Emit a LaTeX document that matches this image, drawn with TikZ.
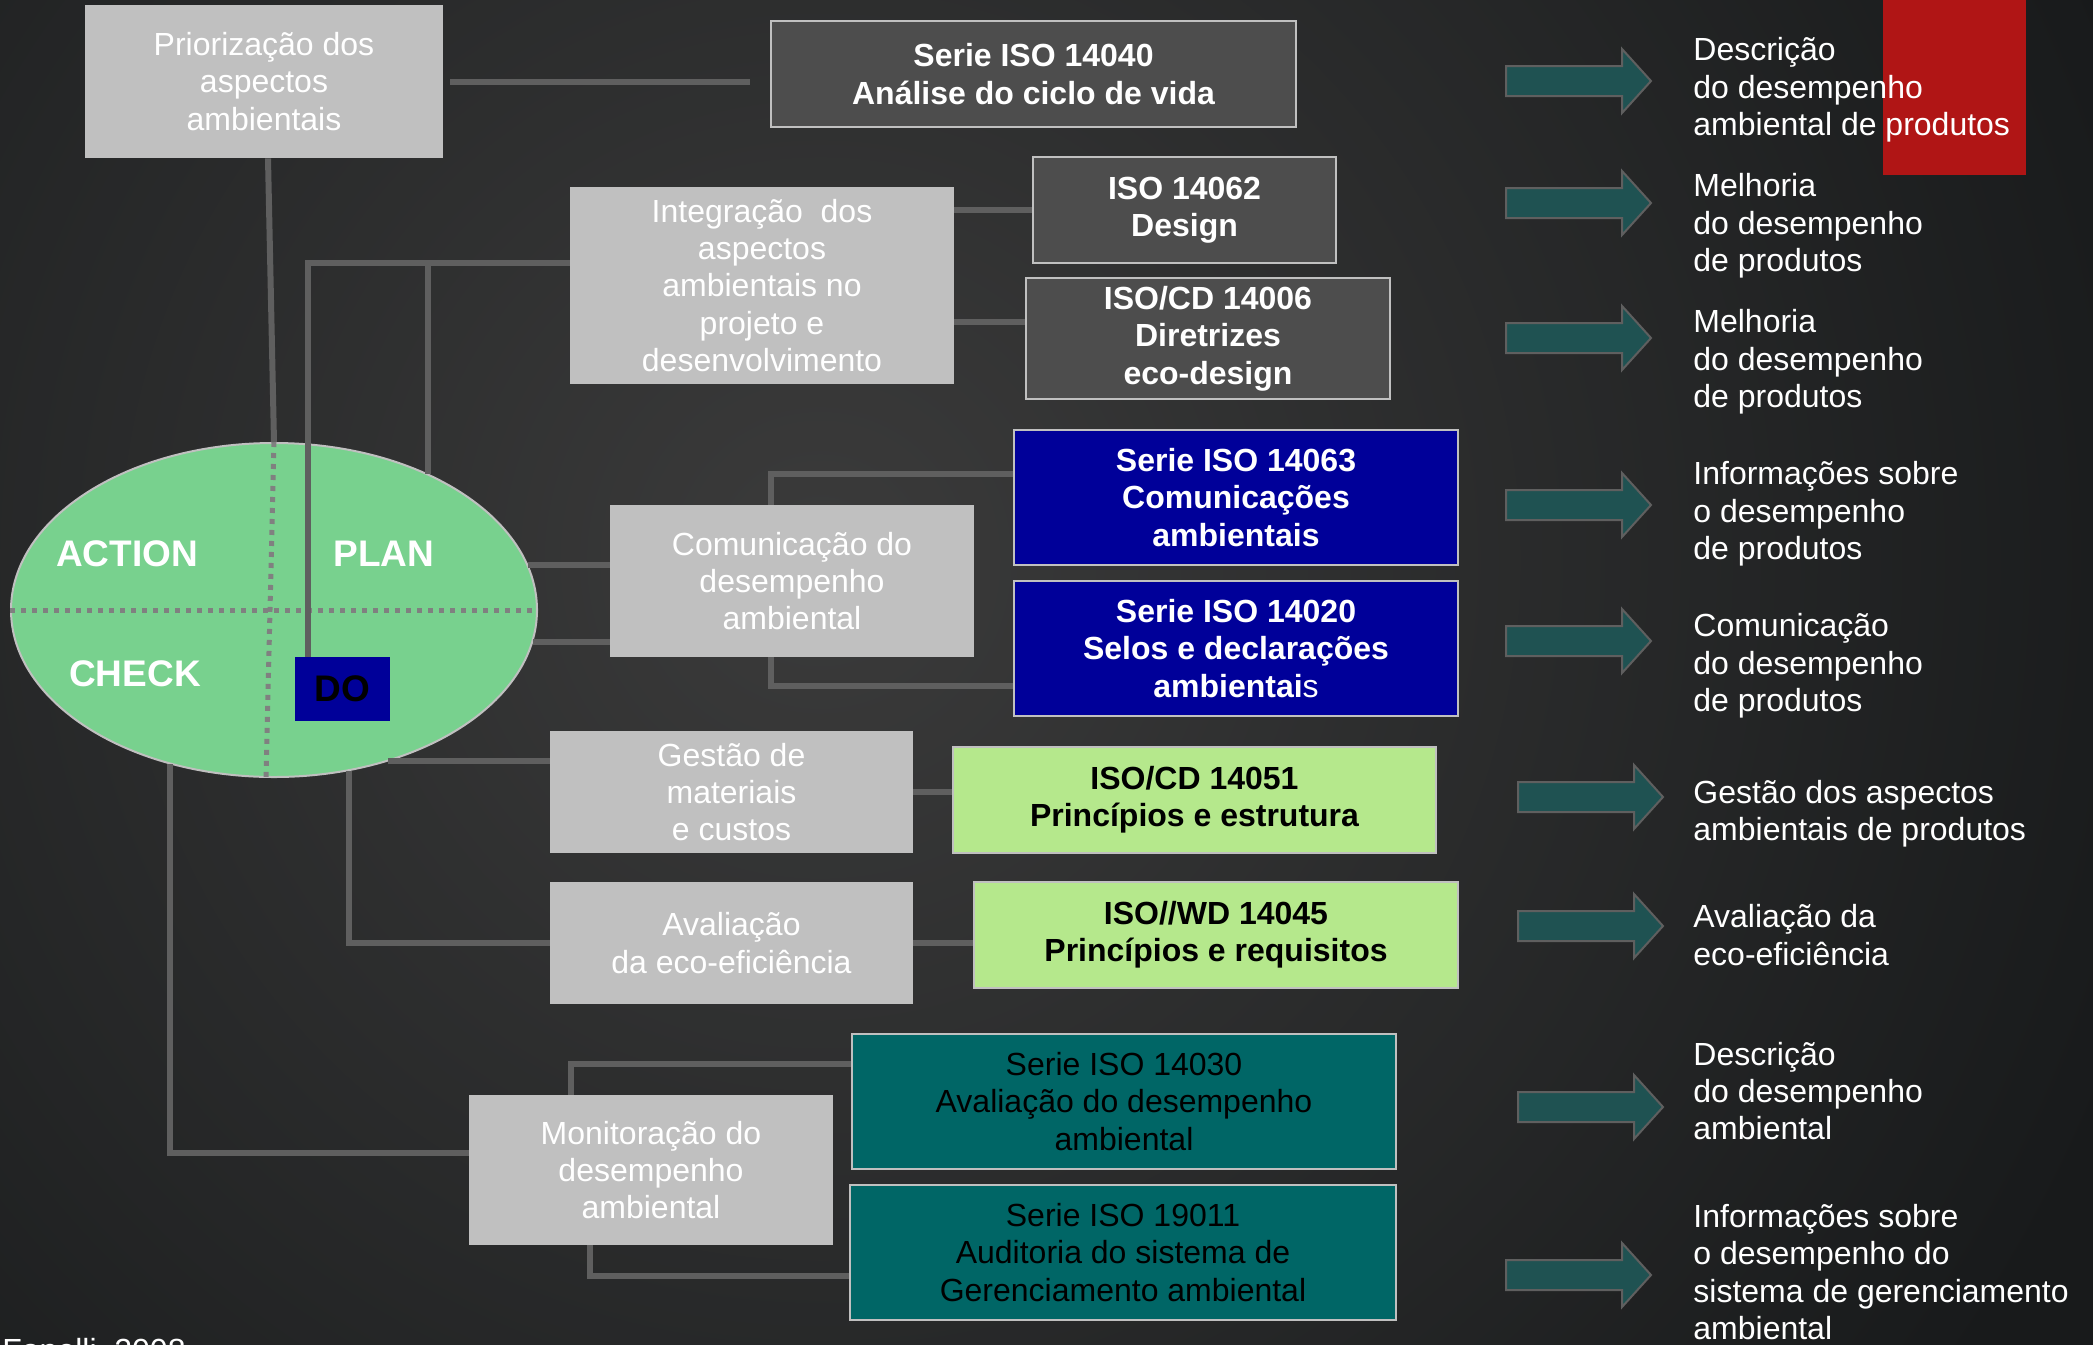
\documentclass[tikz,border=0pt]{standalone}
\usepackage{fontspec}
\setmainfont{Liberation Sans}
\usetikzlibrary{shapes.geometric}

\definecolor{bgdark}{HTML}{181A1B}
\definecolor{bgmid}{HTML}{3B3B3B}
\definecolor{boxgray}{HTML}{C0C0C0}
\definecolor{boxdark}{HTML}{4D4D4D}
\definecolor{boxblue}{HTML}{000099}
\definecolor{boxgreen}{HTML}{B5E88C}
\definecolor{boxteal}{HTML}{006666}
\definecolor{pdcagreen}{HTML}{78D18E}
\definecolor{linkgray}{HTML}{5F5F5F}
\definecolor{dotgray}{HTML}{808080}
\definecolor{arrowteal}{HTML}{1F5252}
\definecolor{markred}{HTML}{B01515}

\newcommand{\boxfont}{\fontsize{16}{18.7}\selectfont}
\newcommand{\phasefont}{\fontsize{18.5}{22}\selectfont\bfseries}

\begin{document}
\begin{tikzpicture}[x=0.5pt,y=-0.5pt,
  box/.style={inner sep=0pt,align=center,font=\boxfont},
  graybox/.style={box,fill=boxgray,text=white},
  darkbox/.style={box,fill=boxdark,draw=boxgray,line width=1pt,text=white,font=\boxfont\bfseries},
  bluebox/.style={box,fill=boxblue,draw=boxgray,line width=1pt,text=white,font=\boxfont\bfseries},
  greenbox/.style={box,fill=boxgreen,draw=boxgray,line width=1pt,text=black,font=\boxfont\bfseries},
  tealbox/.style={box,fill=boxteal,draw=boxgray,line width=1pt,text=black},
  pdca/.style={ellipse,inner sep=0pt,fill=pdcagreen,draw=boxgray,line width=1pt},
  phase/.style={inner sep=0pt,text=white,font=\phasefont},
  dobox/.style={inner sep=0pt,fill=boxblue,text=black,font=\phasefont},
  link/.style={draw=linkgray,line width=3pt},
  dotline/.style={draw=dotgray,line width=2.5pt,dash pattern=on 2.5pt off 3pt},
  outtext/.style={anchor=west,inner sep=0pt,align=left,text=white,font=\boxfont},
  blockarrow/.style={fill=arrowteal,draw=linkgray,line width=1pt}]

\useasboundingbox (0,0) rectangle (2093,1344);

%background
\begin{scope}
\clip (-20,-20) rectangle (2113,1364);
\fill[bgdark] (-20,-20) rectangle (2113,1364);
\shade[inner color=bgmid,outer color=bgdark] (820,560) circle[radius=1400];
\end{scope}
\fill[markred] (1883,-5) rectangle (2026,175);

%PDCA
\node[pdca,minimum width=263pt,minimum height=167pt] (cycle) at (274,610) {};
\draw[dotline] (cycle.west) -- (cycle.east);
\draw[dotline] (cycle.north) -- ([xshift=-4pt]cycle.south);
\node[phase] (action) at (127,554) {ACTION};
\node[phase] (plan) at (384,554) {PLAN};
\node[phase] (check) at (135,674) {CHECK};

%left column
\node[graybox,minimum width=179pt,minimum height=76.5pt] (prio) at (264,81.5) {Priorização dos\\aspectos\\ambientais};
\node[graybox,minimum width=192pt,minimum height=98.5pt] (integ) at (762,285.5) {Integração\ \ dos\\aspectos\\ambientais no\\projeto e\\desenvolvimento};
\node[graybox,minimum width=182pt,minimum height=76pt] (comun) at (792,581) {Comunicação do\\desempenho\\ambiental};
\node[graybox,minimum width=181.5pt,minimum height=61pt] (gestao) at (731.5,792) {Gestão de\\materiais\\ e custos};
\node[graybox,minimum width=181.5pt,minimum height=61pt] (aval) at (731.5,943) {Avaliação\\da eco-eficiência};
\node[graybox,minimum width=182pt,minimum height=75pt] (monit) at (651,1170) {Monitoração do\\desempenho\\ambiental};

%norms
\node[darkbox,minimum width=262.5pt,minimum height=53pt] (iso14040) at (1033.5,74) {Serie ISO 14040\\Análise do ciclo de vida};
\node[darkbox,minimum width=151.5pt,minimum height=53pt] (iso14062) at (1184.5,210) {ISO 14062\\Design};
\node[darkbox,minimum width=182pt,minimum height=60.5pt] (iso14006) at (1208,338.5) {ISO/CD 14006\\Diretrizes\\eco-design};
\node[bluebox,minimum width=222pt,minimum height=67.5pt] (iso14063) at (1236,497.5) {Serie ISO 14063\\Comunicações\\ambientais};
\node[bluebox,minimum width=222pt,minimum height=67.5pt] (iso14020) at (1236,648.5) {Serie ISO 14020\\Selos e declarações\\ambientai{\mdseries s}};
\node[greenbox,minimum width=241.5pt,minimum height=53pt] (iso14051) at (1194.5,800) {ISO/CD 14051\\Princípios e estrutura};
\node[greenbox,minimum width=242pt,minimum height=53pt] (iso14045) at (1216,935) {ISO//WD 14045\\Princípios e requisitos};
\node[tealbox,minimum width=272pt,minimum height=67.5pt] (iso14030) at (1124,1101.5) {Serie ISO 14030\\Avaliação do desempenho\\ambiental};
\node[tealbox,minimum width=273pt,minimum height=67.5pt] (iso19011) at (1123,1252.5) {Serie ISO 19011\\Auditoria do sistema de\\Gerenciamento ambiental};

%links
\coordinate (k1) at (308,263);
\coordinate (k2) at (428,263);
\coordinate (k3) at (771,474);
\coordinate (k4) at (771,686);
\coordinate (k5) at (166,1153);
\coordinate (k6) at (571,1064);
\coordinate (k7) at (590,1276);
\coordinate (k8) at (990,322);
\draw[link,shorten <=3.5pt,shorten >=10pt] (prio.east) -- (prio.east -| iso14040.west);
\draw[link] ([xshift=2pt]prio.south) -- (cycle.north);
\draw[link] (k1 -| integ.west) -- (k1) -- (k1 |- 0,657);
\draw[link] (k2) -- (k2 |- cycle.41);
\draw[link] (integ.east |- iso14062.west) -- (iso14062.west);
\draw[link] (k8 -| integ.east) -- (k8 -| iso14006.west);
\draw[link] (cycle.10) -- (cycle.10 -| comun.west);
\draw[link] (cycle.-7) -- (cycle.-7 -| comun.west);
\draw[link] (k3 |- comun.north) -- (k3) -- (k3 -| iso14063.west);
\draw[link] (k4 |- comun.south) -- (k4) -- (k4 -| iso14020.west);
\draw[link] (cycle.-53) -- (cycle.-53 -| gestao.west);
\draw[link] (gestao.east) -- (gestao.east -| iso14051.west);
\draw[link] (cycle.-65) |- (aval.west);
\draw[link] (aval.east) -- (aval.east -| iso14045.west);
\draw[link] (cycle.-124) |- (monit.west |- k5);
\draw[link] (k6 |- monit.north) -- (k6) -- (k6 -| iso14030.west);
\draw[link] (k7 |- monit.south) -- (k7) -- (k7 -| iso19011.west);

\node[dobox,minimum width=47.5pt,minimum height=32pt] (do) at (342.5,689) {DO};

%arrows
\foreach \x/\y in {1506/81,1506/203,1506/338,1506/505,1506/641,1518/797,1518/926,1518/1107,1506/1275}
  \draw[blockarrow] (\x,\y-15) -- ++(116,0) -- ++(0,-17) -- ++(29,32) -- ++(-29,32) -- ++(0,-17) -- ++(-116,0) -- cycle;

%results
\node[outtext] (out1) at (1693,90) {Descrição\\do desempenho\\ambiental de produtos};
\node[outtext] (out2) at (1693,226) {Melhoria\\do desempenho\\de produtos};
\node[outtext] (out3) at (1693,362) {Melhoria\\do desempenho\\de produtos};
\node[outtext] (out4) at (1693,514) {Informações sobre\\o desempenho\\de produtos};
\node[outtext] (out5) at (1693,666) {Comunicação\\do desempenho\\de produtos};
\node[outtext] (out6) at (1693,814) {Gestão dos aspectos\\ambientais de produtos};
\node[outtext] (out7) at (1693,935) {Avaliação da\\eco-eficiência};
\node[outtext] (out8) at (1693,1091) {Descrição\\do desempenho\\ambiental};
\node[outtext] (out9) at (1693,1272) {Informações sobre\\o desempenho do\\sistema de gerenciamento\\ambiental};

\node[anchor=north west,inner sep=0pt,text=white,font=\boxfont] (src) at (2,1338) {Fanelli, 2008};

\end{tikzpicture}
\end{document}
